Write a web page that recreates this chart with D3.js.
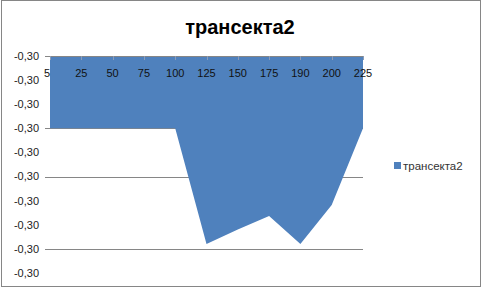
<!DOCTYPE html>
<html>
<head>
<meta charset="utf-8">
<script src="https://cdn.jsdelivr.net/npm/d3@7"></script>
<style>
  body { margin: 0; background: #fff; }
  text { font-family: "Liberation Sans", Arial, sans-serif; }
</style>
</head>
<body>
<div id="chart"></div>
<script>
const seriesName = "трансекта2";
const categories = ["5", "25", "50", "75", "100", "125", "150", "175", "190", "200", "225"];
const values = [-0.3003, -0.3003, -0.3003, -0.3003, -0.3003, -0.30078, -0.30072, -0.300664, -0.30078, -0.300618, -0.3003];
const yTicks = [-0.3000, -0.3001, -0.3002, -0.3003, -0.3004, -0.3005, -0.3006, -0.3007, -0.3008, -0.3009];
const gridValues = [-0.3003, -0.3005, -0.3008];

const width = 482, height = 289;
const plot = { left: 50, right: 363, top: 56, bottom: 273 };

const svg = d3.select("#chart")
    .append("svg")
        .attr("width", width)
        .attr("height", height);

// chart border
svg.append("rect")
    .attr("x", 1.5).attr("y", 0.5)
    .attr("width", 479).attr("height", 286)
    .attr("fill", "#fff")
    .attr("stroke", "#868686");

const x = d3.scalePoint().domain(categories).range([plot.left, plot.right]);
const y = d3.scaleLinear().domain([yTicks[0], yTicks[yTicks.length - 1]]).range([plot.top, plot.bottom]);
// Excel style: comma decimal, plain hyphen minus
const locale = d3.formatLocale({ decimal: ",", thousands: " ", grouping: [3], currency: ["", ""], minus: "-" });
const fmt = locale.format(".2f");

// gridlines
svg.append("g")
    .selectAll("line")
    .data(gridValues)
    .join("line")
        .attr("x1", 45).attr("x2", plot.right)
        .attr("y1", d => Math.round(y(d)) + 0.5)
        .attr("y2", d => Math.round(y(d)) + 0.5)
        .attr("stroke", "#868686");

// area from axis (top) down to the values
const data = categories.map((c, i) => ({ cat: c, value: values[i] }));
const area = d3.area()
    .x(d => x(d.cat))
    .y0(y(yTicks[0]))
    .y1(d => y(d.value));

svg.append("path")
    .datum(data)
    .attr("d", area)
    .attr("fill", "#4F81BD");

// y labels
svg.append("g")
    .selectAll("text")
    .data(yTicks)
    .join("text")
        .attr("x", 39)
        .attr("y", d => y(d))
        .attr("dy", "0.35em")
        .attr("text-anchor", "end")
        .attr("font-size", 11)
        .attr("fill", "#222")
        .text(fmt);

// category axis at top
const xAxis = svg.append("g");
xAxis.append("line")
    .attr("x1", 45).attr("x2", plot.right)
    .attr("y1", plot.top + 0.5).attr("y2", plot.top + 0.5)
    .attr("stroke", "#868686");
xAxis.selectAll(".tick")
    .data(categories)
    .join("line")
        .attr("class", "tick")
        .attr("x1", d => Math.round(x(d)) + 0.5)
        .attr("x2", d => Math.round(x(d)) + 0.5)
        .attr("y1", plot.top).attr("y2", plot.top + 4)
        .attr("stroke", "#8a9cb8");
xAxis.selectAll(".lbl")
    .data(categories)
    .join("text")
        .attr("class", "lbl")
        .attr("x", (d, i) => i === 0 ? x(d) - 3 : x(d))
        .attr("y", 73)
        .attr("dy", "0.35em")
        .attr("text-anchor", "middle")
        .attr("font-size", 11)
        .attr("fill", "#111")
        .text(d => d);

// title
svg.append("text")
    .attr("x", 240).attr("y", 34)
    .attr("text-anchor", "middle")
    .attr("font-size", 20)
    .attr("font-weight", "bold")
    .attr("fill", "#000")
    .text(seriesName);

// legend
const legend = svg.append("g").attr("transform", "translate(394,162)");
legend.append("rect")
    .attr("width", 7).attr("height", 7)
    .attr("fill", "#4F81BD");
legend.append("text")
    .attr("x", 9).attr("y", 3.5)
    .attr("dy", "0.35em")
    .attr("font-size", 11.5)
    .attr("fill", "#333")
    .text(seriesName);
</script>
</body>
</html>
